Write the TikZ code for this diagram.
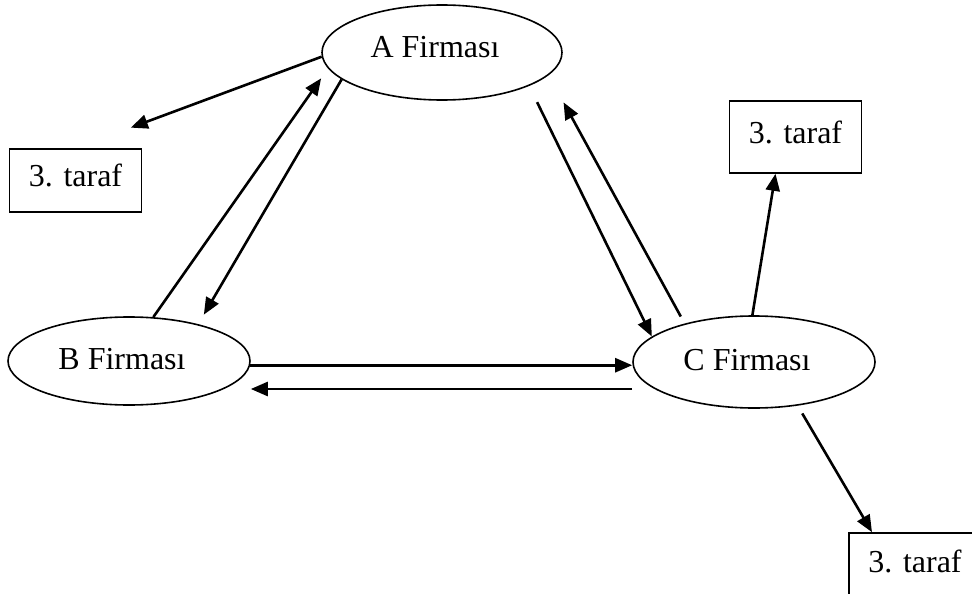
\documentclass[tikz,border=0pt]{standalone}
\usepackage{fontspec}
\setmainfont{Liberation Serif}
\usetikzlibrary{arrows.meta,shapes.geometric}

\begin{document}
\begin{tikzpicture}[x=1pt, y=-1pt, >={Triangle[length=17pt,width=14pt]}]

    \tikzset{firma/.style={draw,ellipse,line width=1.6pt,minimum width=242pt,minimum height=92pt,inner sep=0pt,text depth=4pt,font=\fontsize{32}{38}\selectfont,execute at end node={\kern14pt}}}
    \tikzset{taraf/.style={draw,rectangle,line width=1.6pt,minimum width=132pt,minimum height=66pt,inner sep=0pt,text depth=10pt,font=\fontsize{32}{38}\selectfont}}
    \tikzset{ok/.style={->,line width=2.6pt}}

    \useasboundingbox (0,0) rectangle (972,594);
    \clip (0,0) rectangle (972,594);

    \node[firma,minimum width=240pt,minimum height=95pt,text depth=12pt] (A) at (442,52.5) {A Firması};
    \node[firma,minimum height=88pt] (B) at (129,361) {B Firması};
    \node[firma] (C) at (754,362) {C Firması};

    \node[taraf,minimum height=63pt] (tL) at (75.5,180.5) {3. taraf};
    \node[taraf,minimum height=72pt] (tR) at (795.5,137) {3. taraf};
    \node[taraf] (tB) at (915,566) {3. taraf};

    \draw[ok, shorten >=59pt] (A.182) -- (tL.north);
    \draw[ok, shorten >=12pt] (B.61) -- (A.188);
    \draw[ok, shorten >=11pt] (A.195) -- (B.28);
    \draw[ok, shorten <=18pt] (A.339) -- (C.166);
    \draw[ok, shorten <=8pt, shorten >=31pt] (C.151) -- (A.348);

    \draw[ok] (B.358) -- (B.358 -| C.west);
    \draw[ok] ([yshift=-27pt]C.west) -- ([yshift=-27pt]C.west -| B.east);

    % ucuncu taraflar
    \draw[ok] (C.92) -- ([xshift=-20pt]tR.south);
    \draw[ok, shorten <=9pt] (C.315) -- ([xshift=-43pt]tB.north);

\end{tikzpicture}
\end{document}
